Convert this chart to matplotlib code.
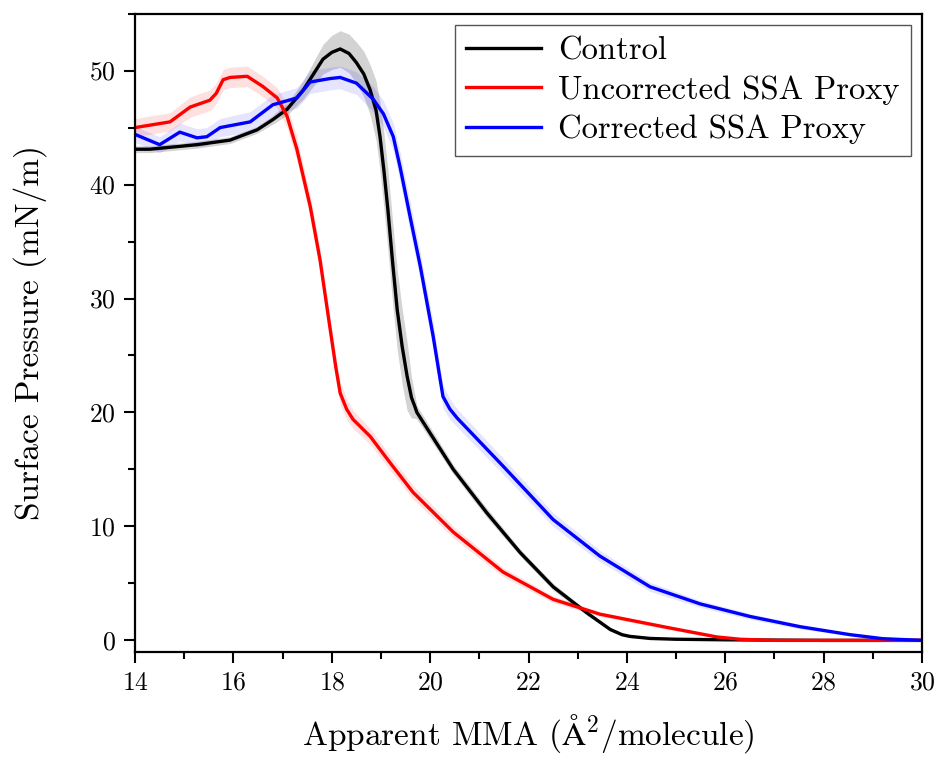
import numpy as np
import matplotlib
matplotlib.use("Agg")
import matplotlib.pyplot as plt
from matplotlib.ticker import MultipleLocator

plt.rcParams["font.family"] = ["cmr10", "DejaVu Serif"]
plt.rcParams["mathtext.fontset"] = "cm"
plt.rcParams["axes.formatter.use_mathtext"] = True
plt.rcParams["axes.unicode_minus"] = False

# isotherm averages and standard deviations
control_x = [14.0, 14.3, 15.26, 15.93, 16.48, 16.8, 17.09, 17.42, 17.82, 18.0, 18.17,
             18.35, 18.5, 18.65, 18.78, 18.9, 18.98, 19.06, 19.14, 19.24, 19.33, 19.43,
             19.53, 19.62, 19.69, 19.73, 20.1, 20.47, 21.15,
             21.83, 22.5, 23.19, 23.66, 23.9, 24.06, 24.47, 25.0, 26.0, 28.0, 30.0]
control_y = [43.1, 43.1, 43.5, 43.9, 44.8, 45.7, 46.6, 48.3, 51.0, 51.6, 51.9,
             51.5, 50.7, 49.7, 48.3, 46.5, 44.2, 41.2, 37.8, 33.0, 29.0, 25.8,
             23.2, 21.3, 20.5, 20.0, 17.5, 15.0, 11.2,
             7.7, 4.7, 2.4, 0.96, 0.5, 0.35, 0.17, 0.1, 0.05, 0.0, 0.0]
control_sd = [0.3, 0.3, 0.3, 0.3, 0.3, 0.4, 0.5, 0.8, 1.3, 1.5, 1.6,
              1.7, 1.8, 2.0, 2.2, 2.6, 3.0, 3.3, 3.5, 3.6, 3.5, 3.3,
              3.0, 1.8, 1.0, 0.6, 0.5, 0.4, 0.4,
              0.3, 0.3, 0.2, 0.15, 0.1, 0.1, 0.05, 0.05, 0.0, 0.0, 0.0]

uncorr_x = [14.0, 14.71, 15.12, 15.52, 15.65, 15.79, 15.93, 16.28, 16.6, 16.89, 17.09,
            17.29, 17.56, 17.76, 17.96, 18.08, 18.17, 18.3, 18.43, 18.78, 19.2, 19.65,
            20.47, 21.48, 22.5, 23.45, 24.8, 25.83, 26.3, 27.0, 28.0, 30.0]
uncorr_y = [45.0, 45.5, 46.8, 47.4, 48.0, 49.2, 49.4, 49.5, 48.6, 47.6, 46.0,
            43.1, 38.1, 33.4, 27.5, 24.0, 21.7, 20.3, 19.4, 17.9, 15.5, 13.0,
            9.5, 6.0, 3.6, 2.3, 1.15, 0.3, 0.1, 0.0, 0.0, 0.0]
uncorr_sd = [0.8, 0.8, 0.9, 0.9, 0.9, 0.9, 0.9, 0.9, 0.9, 0.9, 1.0,
             1.0, 1.0, 1.0, 1.0, 1.0, 1.0, 0.9, 0.8, 0.7, 0.65, 0.6,
             0.5, 0.4, 0.3, 0.2, 0.15, 0.1, 0.05, 0.0, 0.0, 0.0]

corr_x = [14.0, 14.5, 14.91, 15.26, 15.46, 15.73, 16.34, 16.8, 17.29, 17.56,
          17.96, 18.17, 18.5, 18.84, 19.05, 19.25, 19.39, 19.6, 19.8, 20.06, 20.18, 20.26,
          20.4, 20.55, 21.48, 22.5, 23.45, 24.47, 25.49, 26.5, 27.52, 28.54, 29.2, 30.0]
corr_y = [44.4, 43.5, 44.6, 44.1, 44.2, 45.0, 45.5, 47.0, 47.6, 49.0,
          49.3, 49.4, 48.9, 47.5, 46.2, 44.2, 41.5, 37.0, 32.8, 26.7, 23.5, 21.4,
          20.3, 19.5, 15.3, 10.6, 7.4, 4.7, 3.2, 2.1, 1.2, 0.5, 0.15, 0.0]
corr_sd = [0.7, 0.7, 0.8, 0.8, 0.8, 0.8, 0.9, 0.9, 0.9, 1.0,
           1.0, 1.0, 1.0, 1.1, 1.15, 1.2, 1.3, 1.3, 1.2, 1.2, 1.1, 1.0,
           0.9, 0.8, 0.7, 0.6, 0.5, 0.4, 0.3, 0.25, 0.2, 0.1, 0.05, 0.0]

series = [
    ("Control", control_x, control_y, control_sd, "black", "#c8c8c8", 0.8),
    ("Uncorrected SSA Proxy", uncorr_x, uncorr_y, uncorr_sd, "red", "red", 0.12),
    ("Corrected SSA Proxy", corr_x, corr_y, corr_sd, "blue", "blue", 0.10),
]

fig = plt.figure(figsize=(9.38, 7.57), dpi=100)
ax = fig.add_axes([0.144, 0.139, 0.839, 0.843])

for label, x, y, sd, c, band, a in series:
    x = np.array(x)
    y = np.array(y)
    sd = np.array(sd)
    ax.fill_between(x, y - sd, y + sd, color=band, alpha=a, lw=0)
    ax.plot(x, y, color=c, lw=2.4, label=label)

ax.set_xlim(14, 30)
ax.set_ylim(-1, 55)
ax.xaxis.set_major_locator(MultipleLocator(2))
ax.xaxis.set_minor_locator(MultipleLocator(1))
ax.yaxis.set_major_locator(MultipleLocator(10))
ax.yaxis.set_minor_locator(MultipleLocator(5))
ax.tick_params(which="both", direction="out", width=1.5, labelsize=18.5, pad=6)
ax.tick_params(which="major", length=8)
ax.tick_params(which="minor", length=5)
for s in ax.spines.values():
    s.set_linewidth(1.6)

ax.set_xlabel(r"Apparent MMA ($\mathrm{\AA}^{\mathbf{2}}$/molecule)", fontsize=24, labelpad=12)
ax.set_ylabel("Surface Pressure (mN/m)", fontsize=24, labelpad=30)

leg = ax.legend(loc="upper right", fontsize=23.5, fancybox=False, framealpha=1,
                edgecolor="#555555", borderaxespad=0.35, handlelength=2.3,
                handletextpad=0.5, labelspacing=0.3, borderpad=0.35)
leg.get_frame().set_linewidth(1.0)

fig.savefig("out.png", dpi=100)
